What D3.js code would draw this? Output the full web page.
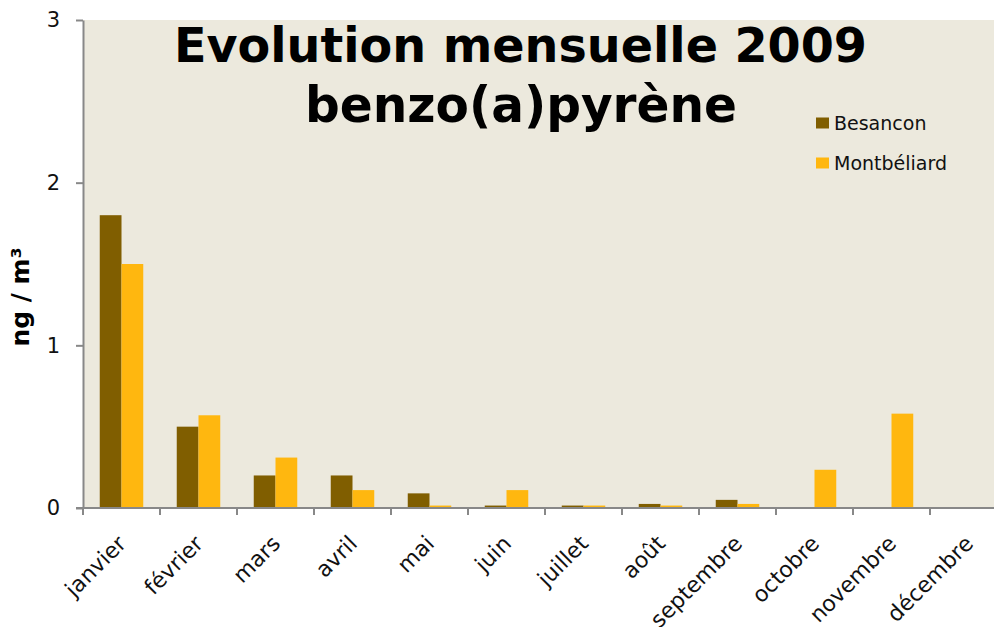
<!DOCTYPE html>
<html>
<head>
<meta charset="utf-8">
<script src="https://cdn.jsdelivr.net/npm/d3@7"></script>
<style>
  body { margin:0; background:#fff; }
  text { font-family: "DejaVu Sans", Verdana, sans-serif; }
</style>
</head>
<body>
<div class="chart"></div>
<script>
// data
const months = ['janvier','février','mars','avril','mai','juin','juillet','août','septembre','octobre','novembre','décembre'];
const seriesNames = ['Besancon','Montbéliard'];
const besancon = [1.8, 0.5, 0.2, 0.2, 0.09, 0.015, 0.015, 0.025, 0.05, null, null, null];
const montbeliard = [1.5, 0.57, 0.31, 0.11, 0.015, 0.11, 0.015, 0.015, 0.025, 0.235, 0.58, null];
const yTicks = [0, 1, 2, 3];
const colors = ['#805E00', '#FFB70F'];

const width = 994, height = 627;
const margin = {top:20, left:83, bottom:119};
const plotRight = 83 + 12*77;

const svg = d3.select('.chart').append('svg')
    .attr('width', width).attr('height', height);

const x = d3.scaleBand().domain(months).range([margin.left, plotRight]).padding(0);
const x1 = d3.scaleBand().domain(seriesNames).range([0, x.bandwidth()]).paddingInner(0).paddingOuter(0.77);
const y = d3.scaleLinear().domain([0, 3]).range([height - margin.bottom, margin.top]);

// plot background
svg.append('rect')
    .attr('x', margin.left).attr('y', margin.top)
    .attr('width', plotRight - margin.left)
    .attr('height', y(0) - margin.top)
    .style('fill', '#ECE9DD');

// bars
const rows = months.map((m,i) => ({month:m, values:[besancon[i], montbeliard[i]]}));
svg.append('g').selectAll('g').data(rows).join('g')
    .attr('transform', d => `translate(${x(d.month)},0)`)
    .selectAll('rect')
    .data(d => d.values.map((v,j) => ({name:seriesNames[j], value:v, j:j})).filter(e => e.value != null))
    .join('rect')
    .attr('x', d => x1(d.name))
    .attr('y', d => y(d.value))
    .attr('width', x1.bandwidth())
    .attr('height', d => y(0) - y(d.value))
    .style('fill', d => colors[d.j]);

// y axis
const yAxis = svg.append('g').attr('transform', `translate(${margin.left},0)`)
    .call(d3.axisLeft(y).tickValues(yTicks).tickFormat(d3.format('d')).tickSizeInner(7).tickSizeOuter(0).tickPadding(16));
yAxis.selectAll('line, path').style('stroke', '#888').style('stroke-width', 2);
yAxis.selectAll('text').style('font-size', '21px').style('fill', '#111');

// x axis: ticks at band boundaries
const xAxisG = svg.append('g').attr('transform', `translate(0,${y(0)})`);
xAxisG.append('line').attr('x1', margin.left - 7).attr('x2', plotRight)
    .style('stroke', '#888').style('stroke-width', 2);
xAxisG.selectAll('.tk').data(months).join('line').attr('class', 'tk')
    .attr('x1', d => x(d)).attr('x2', d => x(d))
    .attr('y1', 0).attr('y2', 7)
    .style('stroke', '#888').style('stroke-width', 2);
xAxisG.selectAll('.lbl').data(months).join('text').attr('class', 'lbl')
    .attr('transform', d => `translate(${x(d) + x.bandwidth()/2 + 6},${37}) rotate(-45)`)
    .attr('text-anchor', 'end')
    .style('font-size', '22px').style('fill', '#111')
    .text(d => d);

// y axis title
svg.append('text')
    .attr('transform', `translate(29,${297}) rotate(-90)`)
    .attr('text-anchor', 'middle')
    .style('font-size', '25px').style('font-weight', 'bold')
    .text('ng / m³');

// title
svg.append('text').attr('text-anchor', 'middle')
    .attr('x', 520.5).attr('y', 62)
    .attr('textLength', 693).attr('lengthAdjust', 'spacingAndGlyphs')
    .style('font-size', '48px').style('font-weight', 'bold')
    .text('Evolution mensuelle 2009');
svg.append('text').attr('text-anchor', 'middle')
    .attr('x', 521).attr('y', 121.5)
    .attr('textLength', 432).attr('lengthAdjust', 'spacingAndGlyphs')
    .style('font-size', '50px').style('font-weight', 'bold')
    .text('benzo(a)pyrène');

// legend
const legend = svg.append('g').attr('transform', 'translate(816,117.5)');
const li = legend.selectAll('g').data(seriesNames).join('g')
    .attr('transform', (d,i) => `translate(0,${i*40})`);
li.append('rect').attr('width', 13).attr('height', 11).style('fill', (d,i) => colors[i]);
li.append('text').attr('x', 18).attr('y', 12).style('font-size', '19px').style('fill', '#111').text(d => d);
</script>
</body>
</html>
